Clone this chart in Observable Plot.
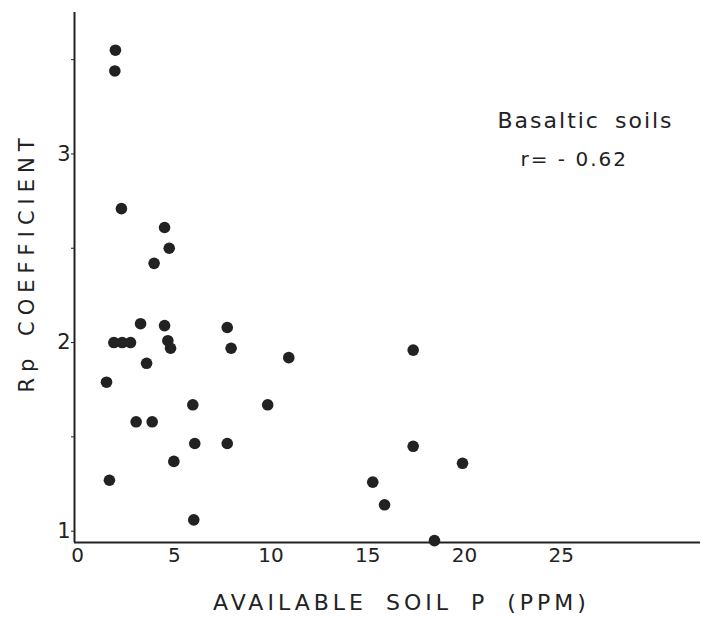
<!DOCTYPE html>
<html><head><meta charset="utf-8">
<script src="https://cdn.jsdelivr.net/npm/d3@7"></script>
<script src="https://cdn.jsdelivr.net/npm/@observablehq/plot@0.6"></script>
<style>body{margin:0;background:#fff;} svg{display:block}</style>
</head><body><div id="chart"></div>
<script>
// Available soil P (ppm)
const soilP = [1.96, 1.93, 2.27, 4.50, 4.74, 3.96, 3.26, 4.50, 7.74, 1.88, 2.31, 2.74, 4.67, 4.81, 7.94, 3.57, 1.50, 5.96, 9.83, 3.03, 3.86, 6.06, 7.74, 4.98, 1.65, 6.01, 10.92, 17.35, 17.35, 19.90, 15.26, 15.87, 18.45];
// Rp coefficient
const rp    = [3.55, 3.44, 2.71, 2.61, 2.50, 2.42, 2.10, 2.09, 2.08, 2.00, 2.00, 2.00, 2.01, 1.97, 1.97, 1.89, 1.79, 1.67, 1.67, 1.58, 1.58, 1.465, 1.465, 1.37, 1.27, 1.06, 1.92, 1.96, 1.45, 1.36, 1.26, 1.14, 0.95];
const xTicks = [0, 5, 10, 15, 20, 25];
const yTicks = [1, 1.5, 2, 2.5, 3, 3.5];
const yLabeled = [1, 2, 3];
const xLabel = "AVAILABLE SOIL P (PPM)";
const yLabel = "Rp COEFFICIENT";
const noteTitle = "Basaltic soils";
const noteR = "r= - 0.62";
const xDomain = [-0.155, 32.2];
const yDomain = [0.94, 3.75];

const points = soilP.map((x, i) => ({x, y: rp[i]}));
const ink = "#222";

const chart = Plot.plot({
  width: 702, height: 617,
  marginLeft: 74, marginRight: 2, marginTop: 12, marginBottom: 75,
  x: {domain: xDomain},
  y: {domain: yDomain},
  style: {background: "#fff", fontFamily: "DejaVu Sans", color: ink},
  marks: [
    Plot.ruleX([xDomain[0]], {stroke: ink, strokeWidth: 2}),
    Plot.ruleY([yDomain[0]], {stroke: ink, strokeWidth: 2}),
    Plot.axisX({ticks: xTicks, tickSize: 0, tickPadding: 5, fontSize: 20, label: null}),
    Plot.axisY({ticks: yTicks, tickSize: 3, tickPadding: 1, fontSize: 21, tickFormat: d => yLabeled.includes(d) ? String(d) : "", label: null}),
    Plot.dot(points, {x: "x", y: "y", r: 5.8, fill: ink, stroke: "none"}),
    Plot.text([yLabel], {frameAnchor: "left", textAnchor: "middle", rotate: -90, dx: -47, dy: -15, fontSize: 21, fill: ink}),
    Plot.text([xLabel], {frameAnchor: "bottom", textAnchor: "middle", dx: 14, dy: 67, fontSize: 22, fill: ink}),
    Plot.text([noteTitle], {frameAnchor: "top-left", textAnchor: "start", dx: 423, dy: 100, fontSize: 22, fill: ink}),
    Plot.text([noteR], {frameAnchor: "top-left", textAnchor: "start", dx: 446, dy: 139, fontSize: 20, fill: ink})
  ]
});
d3.select(chart).selectAll("text").each(function() {
  const t = this.textContent;
  const s = d3.select(this);
  if (t === xLabel) s.style("letter-spacing", "4px").style("word-spacing", "8px");
  if (t === yLabel) s.style("letter-spacing", "6px").style("word-spacing", "4px");
  if (t === noteTitle) s.style("letter-spacing", "2px").style("word-spacing", "6px");
  if (t === noteR) s.style("letter-spacing", "2px");
});
document.getElementById("chart").appendChild(chart);
</script>
</body></html>
